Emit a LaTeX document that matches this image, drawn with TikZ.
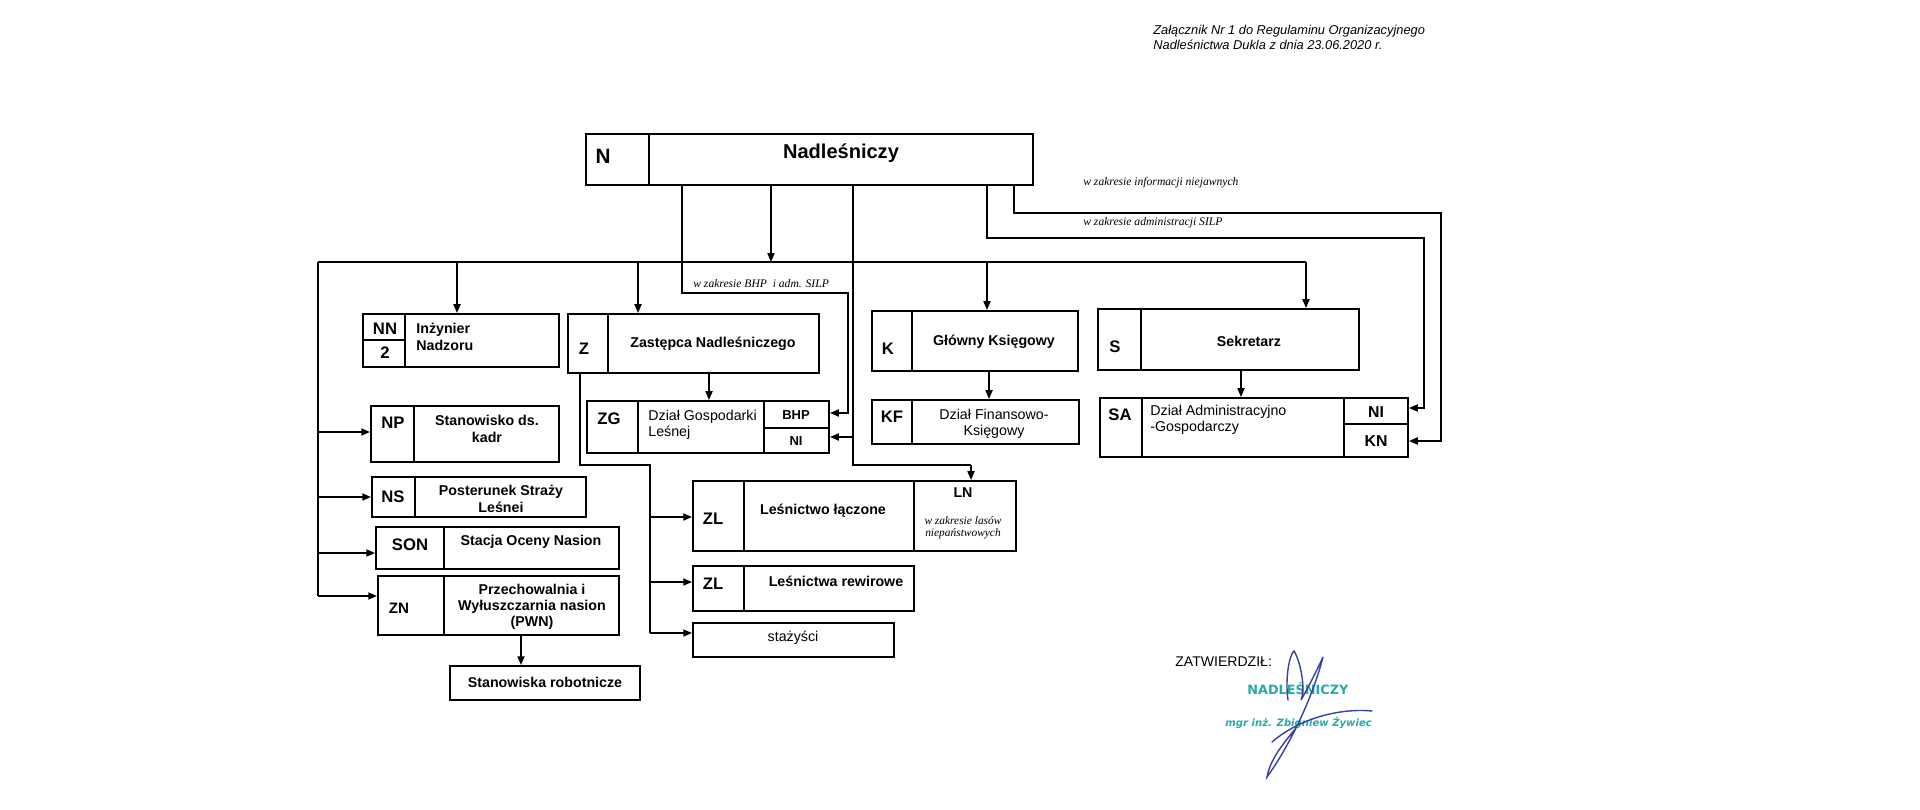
\documentclass[tikz,border=0pt]{standalone}
\usepackage{fontspec}
\setmainfont{Liberation Sans}
\newfontfamily\tnr{Liberation Serif}
\newfontfamily\dvs{DejaVu Sans}
\usetikzlibrary{arrows.meta,fit}
\newcommand\myfs[2]{\fontsize{#1}{#2}\selectfont}
\definecolor{stamp}{RGB}{40,170,170}
\definecolor{sigblue}{RGB}{55,65,165}
\begin{document}
\begin{tikzpicture}[x=0.02cm,y=-0.02cm,
  box/.style={draw,line width=1.1pt,inner sep=0pt},
  ln/.style={line width=0.9pt},
  arr/.style={line width=0.9pt,-{Triangle[length=5pt,width=4pt]}},
  lbl/.style={font=\bfseries\myfs{8.1}{9.4},align=center,inner sep=0pt},
  lbll/.style={font=\bfseries\myfs{8.1}{9.6},align=left,inner sep=0pt,anchor=west},
  reg/.style={font=\myfs{8.1}{9.2},align=center,inner sep=0pt},
  regl/.style={font=\myfs{8.1}{9.0},align=left,inner sep=0pt,anchor=west},
  code/.style={font=\bfseries\myfs{9.5}{11},inner sep=0pt},
  small/.style={font=\bfseries\myfs{7.4}{9},inner sep=0pt},
  note/.style={font=\tnr\itshape\myfs{6.6}{7},inner sep=0pt,anchor=west},
  notec/.style={font=\tnr\itshape\myfs{6.5}{7},inner sep=0pt,align=center}]
\useasboundingbox[fill=white] (0,0) rectangle (1920,810);

% header
\node[font=\itshape\myfs{7.3}{8.2},align=left,anchor=north west,inner sep=0pt] (hdr) at (1153,25)
  {Załącznik Nr 1 do Regulaminu Organizacyjnego\\Nadleśnictwa Dukla z dnia 23.06.2020 r.};

% ---------- boxes ----------
\node[box,fit={(586,134) (1033,185)}] (N) {};
\draw[ln] (649,134) -- (649,185);
\node[code,font=\bfseries\myfs{11.8}{13}] (Nc) at (603,156) {N};
\node[lbl,font=\bfseries\myfs{11.4}{13}] (Nt) at (841,153) {Nadleśniczy};

\node[box,fit={(363,314) (559,367)}] (NN) {};
\draw[ln] (405,314) -- (405,367) (363,340) -- (405,340);
\node[code] (NNc) at (385,329) {NN};
\node[code] (NN2) at (385,353) {2};
\node[lbll] (NNt) at (416,337) {Inżynier\\Nadzoru};

\node[box,fit={(568,314) (819,373)}] (Z) {};
\draw[ln] (608,314) -- (608,373);
\node[code] (Zc) at (584,349) {Z};
\node[lbl] (Zt) at (713,344) {Zastępca Nadleśniczego};

\node[box,fit={(587,401) (829,453)}] (ZG) {};
\draw[ln] (638,401) -- (638,453) (764,401) -- (764,453) (764,428) -- (829,428);
\node[code] (ZGc) at (609,419) {ZG};
\node[regl] (ZGt) at (648,425) {Dział Gospodarki\\Leśnej};
\node[small] (ZGb) at (796,415) {BHP};
\node[small] (ZGn) at (796,441) {NI};

\node[box,fit={(872,311) (1078,371)}] (K) {};
\draw[ln] (912,311) -- (912,371);
\node[code] (Kc) at (888,349) {K};
\node[lbl] (Kt) at (994,342) {Główny Księgowy};

\node[box,fit={(872,400) (1079,444)}] (KF) {};
\draw[ln] (912,400) -- (912,444);
\node[code] (KFc) at (892,417) {KF};
\node[reg] (KFt) at (994,424) {Dział Finansowo-\\Księgowy};

\node[box,fit={(1098,309) (1359,370)}] (S) {};
\draw[ln] (1141,309) -- (1141,370);
\node[code] (Sc) at (1115,347) {S};
\node[lbl] (St) at (1249,341) {Sekretarz};

\node[box,fit={(1100,398) (1408,457)}] (SA) {};
\draw[ln] (1142,398) -- (1142,457) (1344,398) -- (1344,457) (1344,424) -- (1408,424);
\node[code] (SAc) at (1120,415) {SA};
\node[regl] (SAt) at (1150,420) {Dział Administracyjno\\-Gospodarczy};
\node[code,font=\bfseries\myfs{9}{10}] (SAn) at (1376,412) {NI};
\node[code,font=\bfseries\myfs{9}{10}] (SAk) at (1376,441) {KN};

\node[box,fit={(371,406) (559,462)}] (NP) {};
\draw[ln] (414,406) -- (414,462);
\node[code] (NPc) at (393,423) {NP};
\node[lbl] (NPt) at (487,429) {Stanowisko ds.\\kadr};

\node[box,fit={(372,477) (586,517)}] (NS) {};
\draw[ln] (415,477) -- (415,517);
\node[code] (NSc) at (393,497) {NS};
\node[lbl] (NSt) at (501,499) {Posterunek Straży\\Leśnei};

\node[box,fit={(376,527) (619,569)}] (SON) {};
\draw[ln] (444,527) -- (444,569);
\node[code] (SONc) at (410,545) {SON};
\node[lbl] (SONt) at (531,542) {Stacja Oceny Nasion};

\node[box,fit={(378,576) (619,635)}] (ZN) {};
\draw[ln] (444,576) -- (444,635);
\node[code,font=\bfseries\myfs{8.6}{10}] (ZNc) at (399,608) {ZN};
\node[lbl,font=\bfseries\myfs{8.1}{9.1}] (ZNt) at (532,607) {Przechowalnia i\\Wyłuszczarnia nasion\\(PWN)};

\node[box,fit={(450,666) (640,700)}] (SR) {};
\node[lbl] (SRt) at (545,682) {Stanowiska robotnicze};

\node[box,fit={(693,481) (1016,551)}] (ZL1) {};
\draw[ln] (744,481) -- (744,551) (914,481) -- (914,551);
\node[code] (ZL1c) at (713,519) {ZL};
\node[lbl] (ZL1t) at (823,511) {Leśnictwo łączone};
\node[lbl] (LN) at (963,493) {LN};
\node[notec] (LNt) at (963,528) {w zakresie lasów\\niepaństwowych};

\node[box,fit={(693,566) (914,611)}] (ZL2) {};
\draw[ln] (744,566) -- (744,611);
\node[code] (ZL2c) at (713,584) {ZL};
\node[lbl] (ZL2t) at (836,581) {Leśnictwa rewirowe};

\node[box,fit={(693,623) (894,657)}] (ST) {};
\node[reg] (STt) at (793,638) {stażyści};

% ---------- connectors ----------
\coordinate (busL) at (318,262);
\coordinate (busR) at (1306,262);
\draw[ln] (busL) -- (busR);
\draw[arr] (N.south -| 771,0) -- (771,262);
\draw[arr] (457,262) -- (NN.north -| 457,0);
\draw[arr] (638,262) -- (Z.north -| 638,0);
\draw[arr] (987,262) -- (K.north -| 987,0);
\draw[arr] (busR) -- (S.north -| busR);

\draw[ln] (busL) -- (318,596);
\draw[arr] (318,432) -- (NP.west |- 0,432);
\draw[arr] (318,497) -- (NS.west |- 0,497);
\draw[arr] (318,553) -- (SON.west |- 0,553);
\draw[arr] (318,596) -- (ZN.west |- 0,596);

% BHP i adm. SILP
\draw[arr] (N.south -| 682,0) |- (848,293) |- (ZG.east |- 0,413);
\node[note] (lbhp) at (693,284) {w zakresie BHP \ i adm. SILP};
% N -> NI (ZG) and LN
\draw[ln] (N.south -| 853,0) |- (971,465);
\draw[arr] (971,465) -- (ZL1.north -| 971,0);
\draw[arr] (853,437) -- (ZG.east |- 0,437);
% right loops
\draw[arr] (N.south -| 987,0) |- (1424,238) |- (SA.east |- 0,408);
\draw[arr] (N.south -| 1014,0) |- (1441,213) |- (SA.east |- 0,441);
\node[note] (linf) at (1083,183) {w zakresie informacji niejawnych};
\node[note] (lsilp) at (1083,223) {w zakresie administracji SILP};

% sub-arrows
\draw[arr] (Z.south -| 709,0) -- (ZG.north -| 709,0);
\draw[arr] (K.south -| 989,0) -- (KF.north -| 989,0);
\draw[arr] (S.south -| 1241,0) -- (SA.north -| 1241,0);
\draw[arr] (ZN.south -| 521,0) -- (SR.north -| 521,0);

% Z -> Leśnictwa
\draw[ln] (Z.south -| 580,0) |- (650,465) -- (650,633);
\draw[arr] (650,517) -- (ZL1.west |- 0,517);
\draw[arr] (650,582) -- (ZL2.west |- 0,582);
\draw[arr] (650,633) -- (ST.west |- 0,633);

% ---------- approval ----------
\node[font=\myfs{8}{9},anchor=west,inner sep=0pt] (zatw) at (1175,662) {ZATWIERDZIŁ:};
\node[font=\dvs\bfseries\myfs{7.3}{9},text=stamp,anchor=west,inner sep=0pt] (stp) at (1247,689) {NADLEŚNICZY};
\node[font=\dvs\bfseries\itshape\myfs{5.75}{8},text=stamp,anchor=west,inner sep=0pt] (stn) at (1225,723) {mgr inż. Zbigniew Żywiec};
\draw[sigblue,line width=0.8pt,line cap=round]
  (1288,700) .. controls (1285,680) and (1289,655) .. (1294,651)
  .. controls (1300,660) and (1306,688) .. (1301,700)
  .. controls (1308,688) and (1318,668) .. (1323,657)
  .. controls (1312,700) and (1288,748) .. (1267,777)
  .. controls (1270,760) and (1282,745) .. (1296,728);
\draw[sigblue,line width=0.8pt,line cap=round]
  (1272,742) .. controls (1300,718) and (1340,708) .. (1372,711);
\end{tikzpicture}
\end{document}
